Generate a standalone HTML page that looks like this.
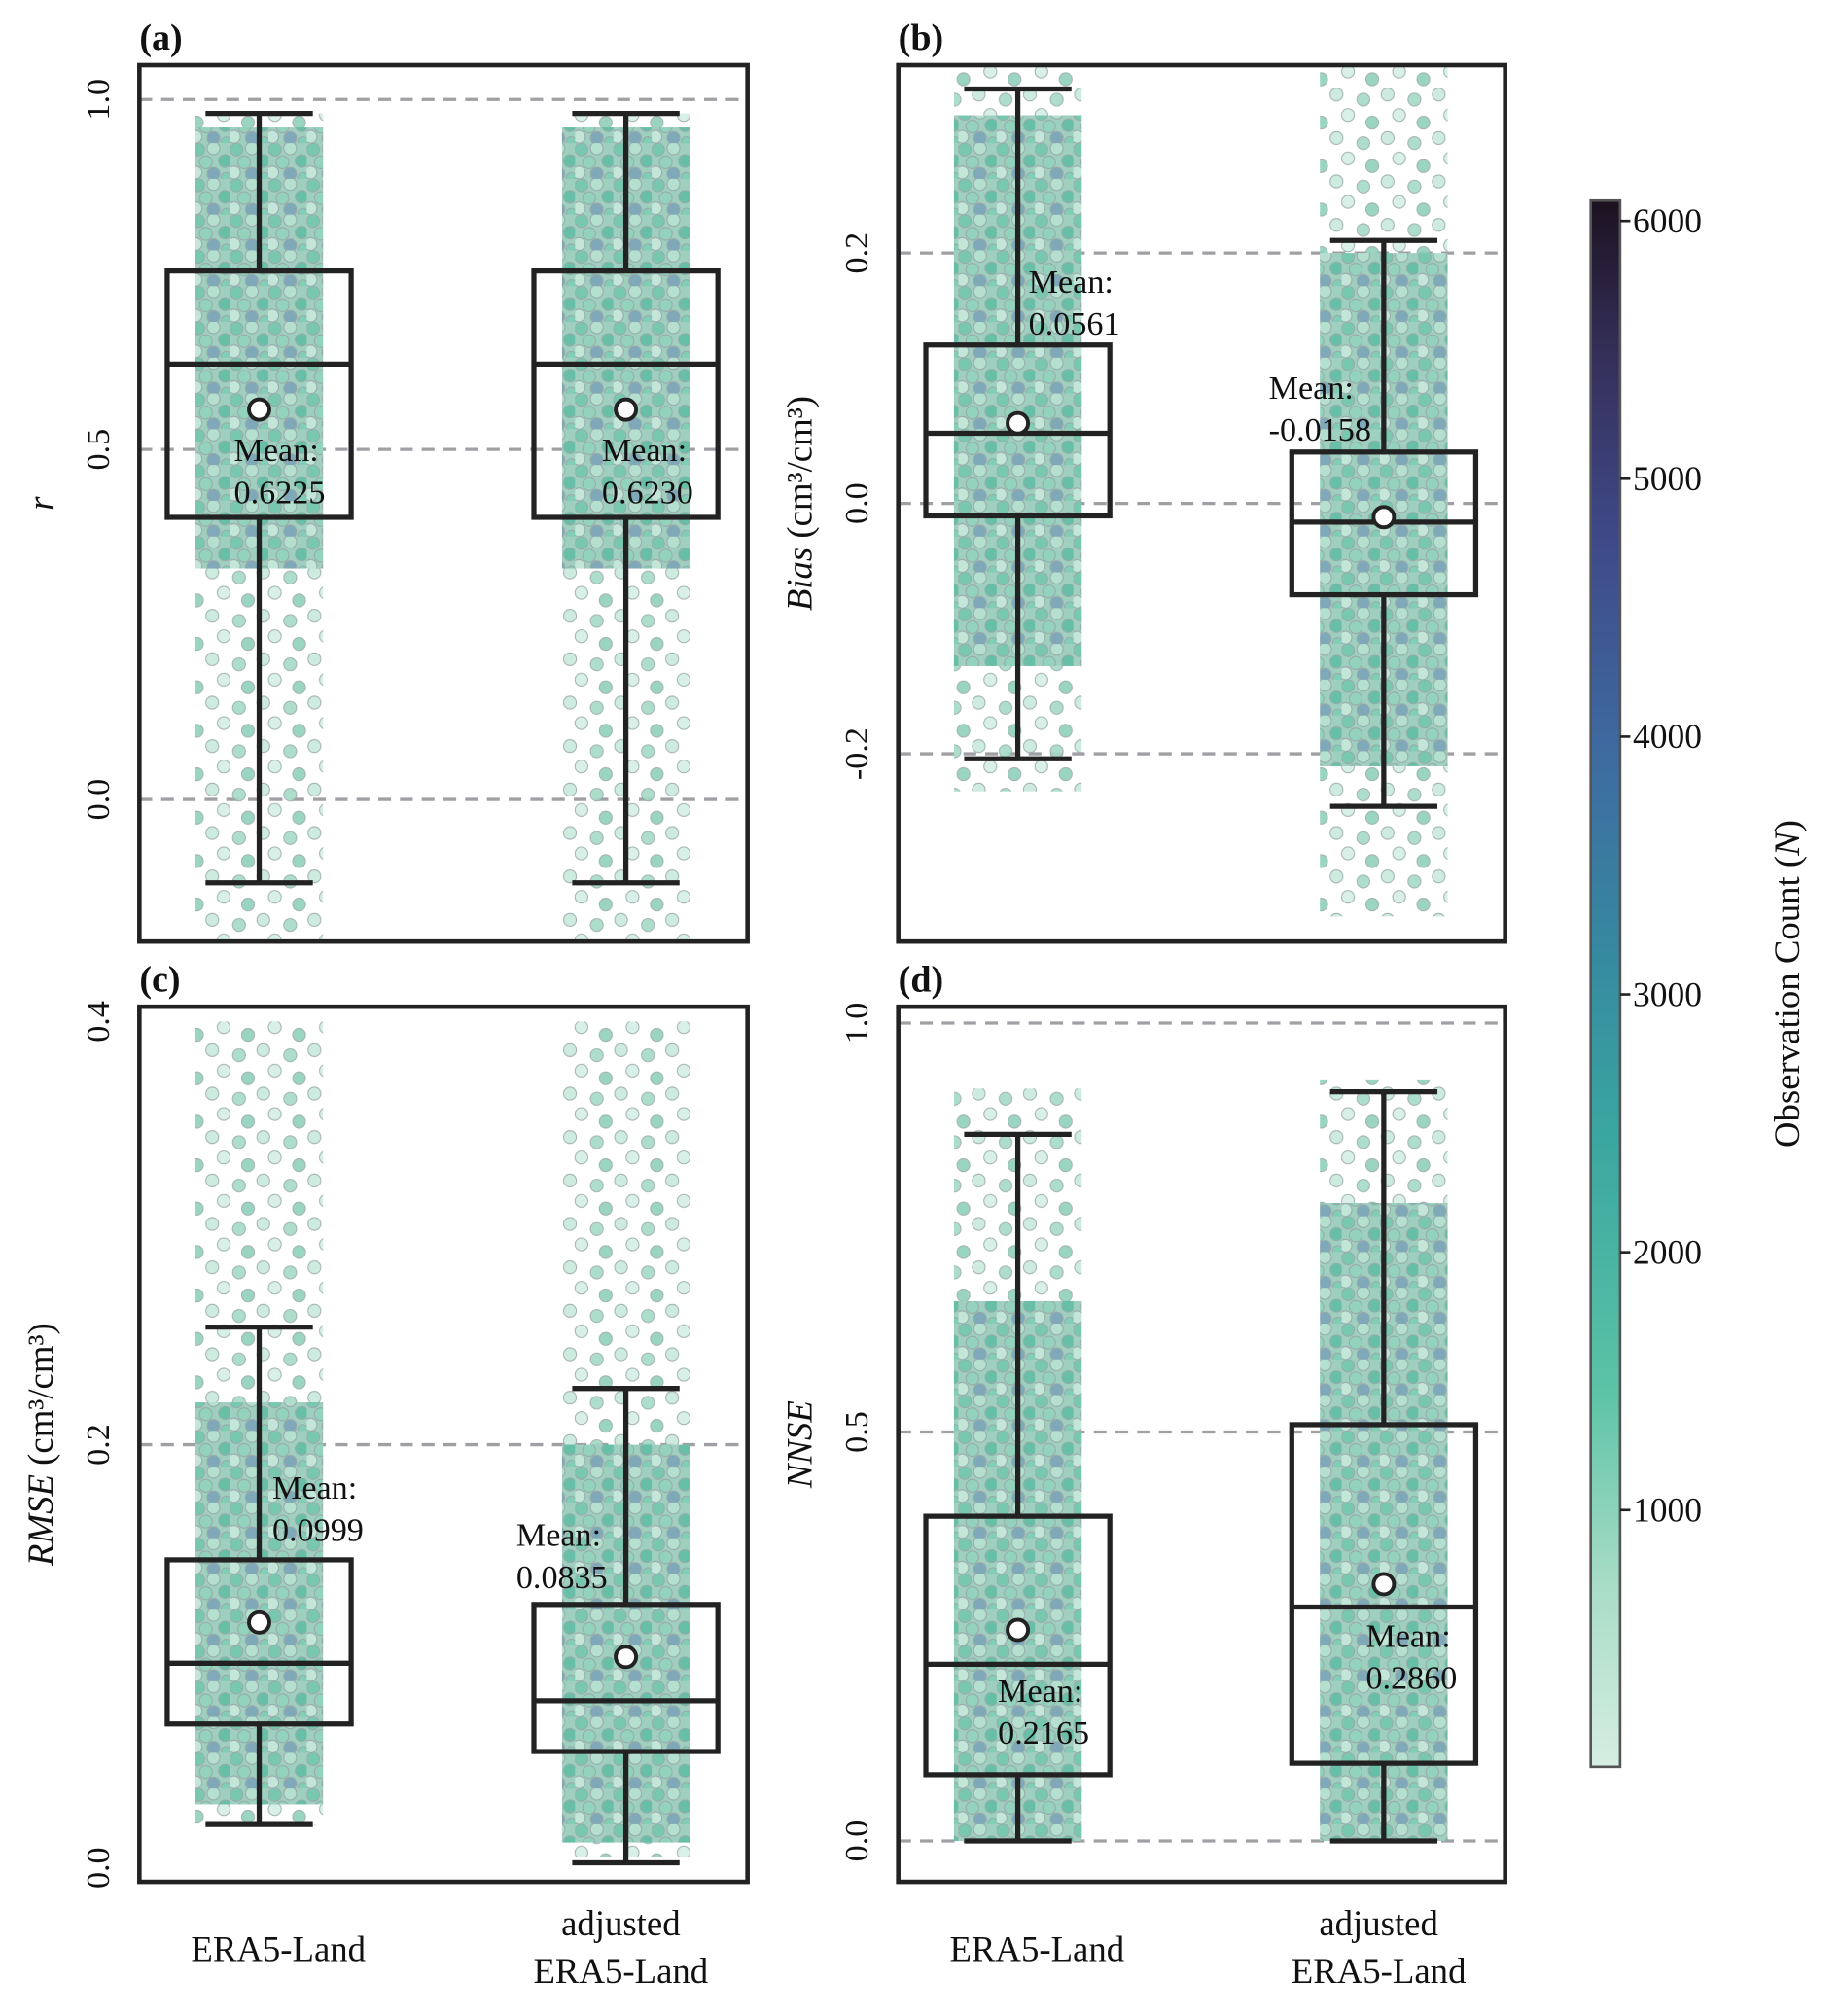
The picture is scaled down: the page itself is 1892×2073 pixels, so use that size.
<!DOCTYPE html>
<html><head><meta charset="utf-8">
<style>
html,body{margin:0;padding:0;background:#fff;}
svg{display:block;font-family:"Liberation Serif",serif;}
</style></head>
<body>
<svg id="fig" width="1892" height="2073" viewBox="0 0 1440 1578" xmlns="http://www.w3.org/2000/svg">
<defs>
<linearGradient id="cmap" x1="0" y1="1" x2="0" y2="0">
<stop offset="0" stop-color="#d6eee2"/>
<stop offset="0.12" stop-color="#a6dcc6"/>
<stop offset="0.24" stop-color="#5cc3a6"/>
<stop offset="0.40" stop-color="#3aa7a0"/>
<stop offset="0.52" stop-color="#3689a0"/>
<stop offset="0.65" stop-color="#3e6aa0"/>
<stop offset="0.78" stop-color="#3f4a8a"/>
<stop offset="0.90" stop-color="#35305a"/>
<stop offset="1" stop-color="#1c1220"/>
</linearGradient>
<pattern id="dense" width="30" height="28" patternUnits="userSpaceOnUse">
<rect width="30" height="28" fill="#9fcfbf"/>
<circle cx="5" cy="5" r="5" fill="#78c8b0" stroke="#9aa" stroke-width="0.8"/>
<circle cx="17" cy="4" r="5" fill="#b5e0d0" stroke="#9aa" stroke-width="0.8"/>
<circle cx="26" cy="14" r="5" fill="#66bfa6" stroke="#9aa" stroke-width="0.8"/>
<circle cx="11" cy="15" r="5" fill="#93d2bd" stroke="#9aa" stroke-width="0.8"/>
<circle cx="3" cy="23" r="5" fill="#c3e6d9" stroke="#9aa" stroke-width="0.8"/>
<circle cx="17" cy="24" r="5" fill="#7fa8b8" stroke="#9aa" stroke-width="0.8"/>
<circle cx="27" cy="27" r="4" fill="#82cdb6" stroke="#9aa" stroke-width="0.8"/>
</pattern>
<pattern id="sparse" width="40" height="34" patternUnits="userSpaceOnUse">
<circle cx="6" cy="6" r="5" fill="#c9e9dc" stroke="#9aa" stroke-width="0.8"/>
<circle cx="27" cy="10" r="5" fill="#a4dac6" stroke="#9aa" stroke-width="0.8"/>
<circle cx="15" cy="22" r="5" fill="#d4eee4" stroke="#9aa" stroke-width="0.8"/>
<circle cx="34" cy="28" r="5" fill="#8fd0bb" stroke="#9aa" stroke-width="0.8"/>
</pattern>
</defs>
<g id="plots"></g>
<g id="cbar"></g>
</svg>
<script>
// ---- data ----
const categories = ["ERA5-Land", "adjusted\nERA5-Land"];
const panelLabels = ["(a)", "(b)", "(c)", "(d)"];
const yMin = [-0.203, -0.35, -0.0066, -0.05];
const yMax = [1.049, 0.35, 0.407, 1.02];
const yTicks = [[0.0, 0.5, 1.0], [-0.2, 0.0, 0.2], [0.0, 0.2, 0.4], [0.0, 0.5, 1.0]];
const yTickLabels = [["0.0","0.5","1.0"], ["-0.2","0.0","0.2"], ["0.0","0.2","0.4"], ["0.0","0.5","1.0"]];
const refLines = [[0.0, 0.5, 1.0], [-0.2, 0.0, 0.2], [0.2], [0.0, 0.5, 1.0]];
const whiskLo = [[-0.119,-0.119],[-0.204,-0.242],[0.0205,0.0024],[0.0,0.0]];
const q1 = [[0.403,0.403],[-0.010,-0.073],[0.068,0.055],[0.081,0.095]];
const median = [[0.622,0.622],[0.056,-0.015],[0.0967,0.079],[0.216,0.286]];
const q3 = [[0.755,0.755],[0.1265,0.041],[0.1456,0.1245],[0.397,0.509]];
const whiskHi = [[0.98,0.98],[0.331,0.210],[0.2556,0.2266],[0.864,0.916]];
const meanMarker = [[0.557,0.557],[0.064,-0.011],[0.116,0.0997],[0.258,0.314]];
const meanText = [["0.6225","0.6230"],["0.0561","-0.0158"],["0.0999","0.0835"],["0.2165","0.2860"]];
const pointsMin = [[-0.21,-0.21],[-0.23,-0.33],[0.02,0.005],[0.0,0.0]];
const pointsMax = [[0.98,0.98],[0.35,0.35],[0.40,0.40],[0.92,0.93]];
const denseMin = [[0.33,0.33],[-0.13,-0.21],[0.03,0.012],[0.0,0.0]];
const denseMax = [[0.96,0.96],[0.31,0.20],[0.22,0.20],[0.66,0.78]];
const cbarTicks = [1000,2000,3000,4000,5000,6000];
const cbarMin = 4, cbarMax = 6079;

// ---- layout ----
const panels = [
 {l:109,r:585,t:51,b:737},{l:703,r:1178,t:51,b:737},
 {l:109,r:585,t:788,b:1473},{l:703,r:1178,t:788,b:1473}];
const catFrac = [0.197, 0.8];
const labelPos = [[[183,361],[471,361]],[[805,229],[993,312]],[[213,1173],[404,1210]],[[781,1332],[1069,1289]]];
const yTitles = [["r",""],["Bias"," (cm³/cm³)"],["RMSE"," (cm³/cm³)"],["NNSE",""]];
const NS="http://www.w3.org/2000/svg";
function mk(tag, attrs, parent){const e=document.createElementNS(NS,tag);for(const k in attrs)e.setAttribute(k,attrs[k]);parent.appendChild(e);return e;}
function yScale(i,v){const p=panels[i];return p.t+(yMax[i]-v)/(yMax[i]-yMin[i])*(p.b-p.t);}
function xScale(i,c){const p=panels[i];return p.l+catFrac[c]*(p.r-p.l);}
const root=document.getElementById('plots');
const defs=document.querySelector('defs');
panels.forEach((p,i)=>{
  const cp=mk('clipPath',{id:'clip'+i},defs);
  mk('rect',{x:p.l,y:p.t,width:p.r-p.l,height:p.b-p.t},cp);
  const g=mk('g',{},root);
  
  
  refLines[i].forEach(v=>{
    const l=mk('line',{x1:p.l,x2:p.r,y1:yScale(i,v),y2:yScale(i,v),stroke:'#a0a0a4','stroke-width':2.5,'stroke-dasharray':'10 7'},g);
    
    
  });
  const cg=mk('g',{'clip-path':'url(#clip'+i+')'},g);
  categories.forEach((c,k)=>{
    const cx=xScale(i,k);
    const s=mk('rect',{x:cx-50,y:yScale(i,pointsMax[i][k]),width:100,height:yScale(i,pointsMin[i][k])-yScale(i,pointsMax[i][k]),fill:'url(#sparse)',opacity:0.9},cg);
    
    
    const d=mk('rect',{x:cx-50,y:yScale(i,denseMax[i][k]),width:100,height:yScale(i,denseMin[i][k])-yScale(i,denseMax[i][k]),fill:'url(#dense)'},cg);
    
    
  });
  categories.forEach((c,k)=>{
    const cx=xScale(i,k), hw=72, cw=42, st={stroke:'#222','stroke-width':4,fill:'none'};
    const bg=mk('g',{},g);
    
    
    mk('line',Object.assign({x1:cx,x2:cx,y1:yScale(i,whiskHi[i][k]),y2:yScale(i,q3[i][k])},st),bg);
    mk('line',Object.assign({x1:cx,x2:cx,y1:yScale(i,q1[i][k]),y2:yScale(i,whiskLo[i][k])},st),bg);
    mk('line',Object.assign({x1:cx-cw,x2:cx+cw,y1:yScale(i,whiskHi[i][k]),y2:yScale(i,whiskHi[i][k])},st),bg);
    mk('line',Object.assign({x1:cx-cw,x2:cx+cw,y1:yScale(i,whiskLo[i][k]),y2:yScale(i,whiskLo[i][k])},st),bg);
    mk('rect',Object.assign({x:cx-hw,y:yScale(i,q3[i][k]),width:2*hw,height:yScale(i,q1[i][k])-yScale(i,q3[i][k])},st),bg);
    mk('line',Object.assign({x1:cx-hw,x2:cx+hw,y1:yScale(i,median[i][k]),y2:yScale(i,median[i][k])},st),bg);
    const m=mk('circle',{cx:cx,cy:yScale(i,meanMarker[i][k]),r:8,fill:'#fff',stroke:'#222','stroke-width':3},bg);
    
    
    const lp=labelPos[i][k];
    const t=mk('text',{x:lp[0],y:lp[1],'font-size':26,fill:'#111'},g);
    
    
    mk('tspan',{x:lp[0],dy:0},t).textContent='Mean:';
    mk('tspan',{x:lp[0],dy:33},t).textContent=meanText[i][k];
  });
  const fr=mk('rect',{x:p.l,y:p.t,width:p.r-p.l,height:p.b-p.t,fill:'none',stroke:'#222','stroke-width':3.5},g);
  
  
  yTicks[i].forEach((v,j)=>{
    const y=yScale(i,v), x=p.l-24;
    const t=mk('text',{x:x,y:y,'font-size':26,'text-anchor':'middle',transform:'rotate(-90 '+x+' '+y+')',fill:'#111'},g);
    t.textContent=yTickLabels[i][j];
    
    
  });
  const pl=mk('text',{x:p.l,y:p.t-12,'font-size':29,'font-weight':'bold',fill:'#111'},g);
  pl.textContent=panelLabels[i];
  
  
  const tx=p.l-68, ty=(p.t+p.b)/2;
  const yt=mk('text',{x:tx,y:ty,'font-size':28,'text-anchor':'middle',transform:'rotate(-90 '+tx+' '+ty+')',fill:'#111'},g);
  
  
  const it=mk('tspan',{'font-style':'italic'},yt); it.textContent=yTitles[i][0];
  if(yTitles[i][1]){mk('tspan',{},yt).textContent=yTitles[i][1];}
  if(i>=2){
    categories.forEach((c,k)=>{
      const cx=xScale(i,k)+(k?-4:15);
      const lines=c.split('\n');
      const t=mk('text',{x:cx,'font-size':28,'text-anchor':'middle',fill:'#111'},g);
      
      
      if(lines.length===1){t.setAttribute('y',1535);t.textContent=lines[0];}
      else{t.setAttribute('y',1515);mk('tspan',{x:cx,dy:0},t).textContent=lines[0];mk('tspan',{x:cx,dy:37},t).textContent=lines[1];}
    });
  }
});
// colorbar
const cb=document.getElementById('cbar');
const cbT=157, cbB=1383, cbL=1245, cbR=1268;
function cy(v){return cbB-(v-cbarMin)/(cbarMax-cbarMin)*(cbB-cbT);}
const bar=mk('rect',{x:cbL,y:cbT,width:cbR-cbL,height:cbB-cbT,fill:'url(#cmap)',stroke:'#555','stroke-width':2},cb);


cbarTicks.forEach(v=>{
  mk('line',{x1:cbR,x2:cbR+8,y1:cy(v),y2:cy(v),stroke:'#222','stroke-width':2},cb);
  const t=mk('text',{x:cbR+10,y:cy(v)+9,'font-size':27,fill:'#111'},cb);
  t.textContent=String(v);
  
  
});
const cbx=1408, cby=770;
const ct=mk('text',{x:cbx,y:cby,'font-size':28,'text-anchor':'middle',transform:'rotate(-90 '+cbx+' '+cby+')',fill:'#111'},cb);


mk('tspan',{},ct).textContent='Observation Count (';
mk('tspan',{'font-style':'italic'},ct).textContent='N';
mk('tspan',{},ct).textContent=')';
</script>
</body></html>
